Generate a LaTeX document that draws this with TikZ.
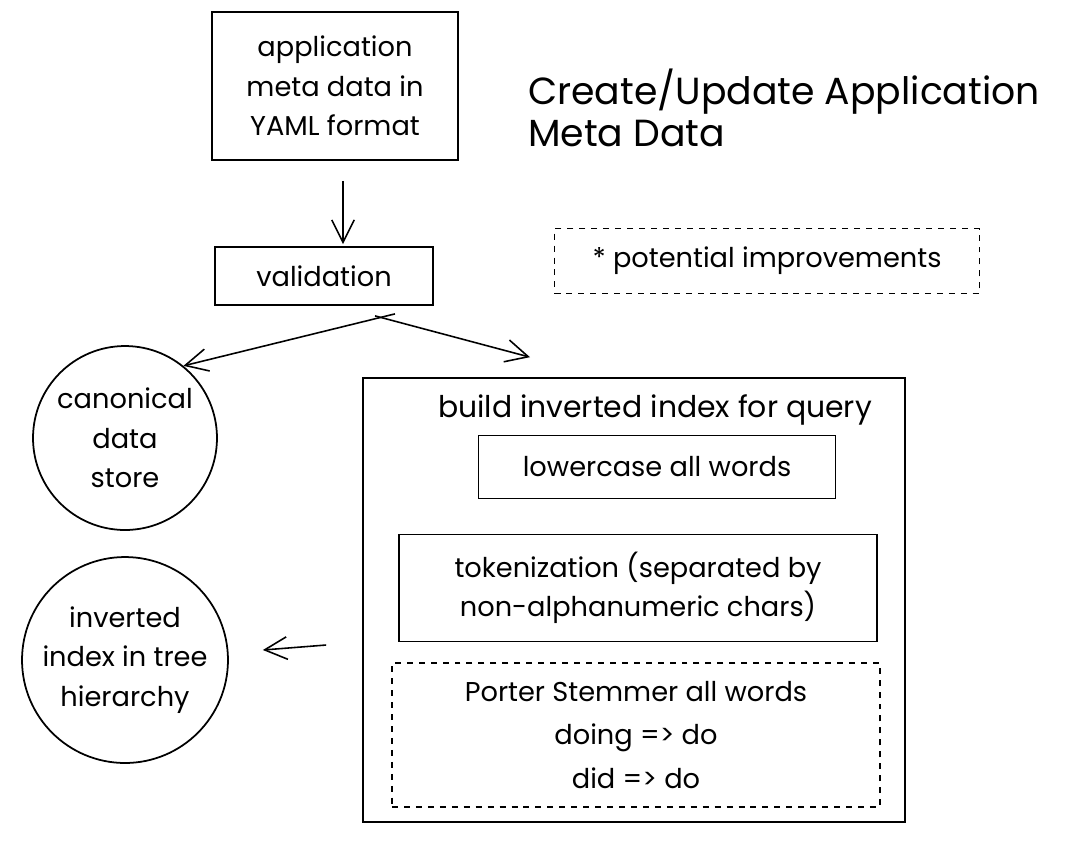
\documentclass[tikz,border=0pt]{standalone}
\usepackage{fontspec}
\setmainfont{Poppins}
\usepackage{tikz}
\usetikzlibrary{arrows.meta}
\usetikzlibrary{calc}

\begin{document}
\begin{tikzpicture}[
		x=0.02cm, y=-0.02cm,
		box/.style={draw,line width=1pt,align=center,inner sep=0pt,font=\fontsize{15.5}{22.5}\selectfont},
		dbox/.style={box,line width=0.8pt,dash pattern=on 3.4pt off 3.4pt},
		ball/.style={circle,draw,line width=1pt,align=center,inner sep=0pt,font=\fontsize{15.5}{22.5}\selectfont},
		txt/.style={align=center,font=\fontsize{17}{22.5}\selectfont},
		>={Straight Barb[length=4.5mm,width=4.5mm]},
		link/.style={->,line width=0.9pt}]
	\useasboundingbox (0,0) rectangle (1068,843);
	%% define boxes
	\node (yaml) at (335,86) [box,minimum width=4.92cm,minimum height=2.96cm] {application\\meta data in\\YAML format};
	\node (title) at (522,108) [anchor=west,align=left,font=\fontsize{21.5}{24}\selectfont] {Create/Update Application\\Meta Data};
	\node (valid) at (324,276) [box,minimum width=4.36cm,minimum height=1.16cm] {validation};
	\node (improve) at (767,261) [dbox,minimum width=8.5cm,minimum height=1.3cm] {* potential improvements};
	\node (canon) at (125,438) [ball,minimum size=3.68cm] {canonical\\data\\store};
	\node (invidx) at (125,660) [ball,minimum size=4.12cm] {inverted\\index in tree\\hierarchy};
	%% inverted index steps
	\node (build) at (634,600) [box,minimum width=10.84cm,minimum height=8.88cm] {};
	\node (buildlbl) at (655,410) [txt] {build inverted index for query};
	\node (lower) at (657,467) [box,minimum width=7.14cm,minimum height=1.26cm] {lowercase all words};
	\node (token) at (638,588) [box,minimum width=9.56cm,minimum height=2.14cm] {tokenization (separated by\\non-alphanumeric chars)};
	\node (porter) at (636,735) [dbox,minimum width=9.76cm,minimum height=2.88cm,font=\fontsize{15.5}{24.5}\selectfont] {Porter Stemmer all words\\doing => do\\did => do};
	%% define arrows
	\draw[link] ($(yaml.south)+(8,20)$) -- ($(valid.north)+(19,-2)$);
	\draw[link] ($(valid.south)+(71,8)$) -- (canon.51);
	\draw[link] ($(valid.south)+(51,10)$) -- ($(build.north)+(-104,-20)$);
	\draw[link] ($(build.west)+(-36,45)$) -- ($(invidx.east)+(34,-10)$);
\end{tikzpicture}
\end{document}
